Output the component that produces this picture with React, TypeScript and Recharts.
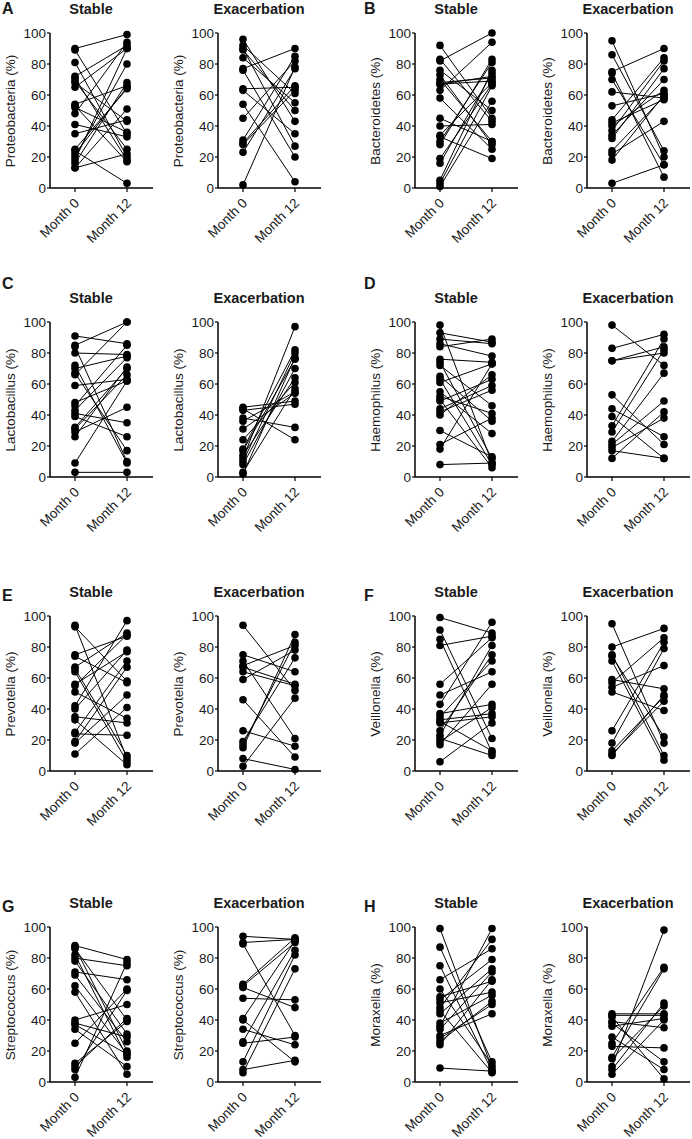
import { LineChart, Line, XAxis, YAxis } from 'recharts'

const months = ['Month 0', 'Month 12']
const yTicks = [0, 20, 40, 60, 80, 100]

// A - Proteobacteria
const proteoStableM0 = [90, 89, 81, 72, 71, 69, 68, 65, 54, 53, 52, 48, 41, 35, 25, 24, 22, 20, 18, 16, 13, 13]
const proteoStableM12 = [99, 35, 20, 92, 18, 25, 43, 90, 66, 17, 36, 94, 33, 44, 64, 3, 65, 80, 90, 68, 22, 51]
const proteoExacM0 = [96, 92, 90, 89, 84, 77, 76, 64, 63, 54, 45, 31, 29, 28, 23, 2]
const proteoExacM12 = [43, 61, 27, 50, 55, 90, 20, 65, 35, 4, 82, 85, 66, 63, 77, 78]

// B - Bacteroidetes
const bactStableM0 = [92, 83, 82, 76, 73, 70, 68, 67, 67, 63, 58, 45, 40, 34, 33, 30, 28, 19, 16, 5, 3, 1]
const bactStableM12 = [45, 43, 100, 50, 28, 30, 71, 69, 72, 94, 25, 30, 41, 68, 19, 81, 83, 67, 74, 76, 66, 56]
const bactExacM0 = [95, 86, 75, 74, 70, 62, 53, 44, 42, 40, 37, 34, 32, 24, 22, 18, 3]
const bactExacM12 = [20, 24, 90, 7, 15, 58, 61, 84, 57, 63, 82, 70, 77, 59, 43, 60, 15]

// C - Lactobacillus
const lactoStableM0 = [91, 85, 84, 80, 72, 70, 67, 66, 59, 48, 46, 43, 41, 39, 32, 31, 29, 26, 9, 3]
const lactoStableM12 = [86, 100, 10, 79, 9, 78, 17, 100, 63, 62, 85, 77, 35, 26, 70, 66, 45, 71, 62, 3]
const lactoExacM0 = [45, 44, 43, 38, 36, 31, 24, 18, 17, 14, 12, 10, 8, 3, 2]
const lactoExacM12 = [49, 24, 47, 32, 55, 54, 61, 82, 76, 64, 97, 80, 70, 57, 77]

// D - Haemophilus
const haemoStableM0 = [98, 93, 89, 86, 84, 76, 74, 72, 65, 63, 61, 55, 52, 50, 49, 44, 42, 40, 30, 21, 18, 8]
const haemoStableM12 = [9, 87, 86, 78, 89, 74, 12, 46, 36, 8, 73, 28, 41, 6, 63, 59, 56, 66, 13, 38, 73, 9]
const haemoExacM0 = [98, 83, 75, 75, 53, 44, 39, 33, 29, 23, 21, 19, 17, 12]
const haemoExacM12 = [72, 92, 84, 80, 21, 26, 12, 89, 82, 67, 49, 38, 12, 42]

// E - Prevotella
const prevoStableM0 = [94, 93, 75, 74, 67, 66, 64, 56, 55, 51, 42, 40, 35, 33, 25, 24, 19, 18, 11]
const prevoStableM12 = [8, 58, 87, 57, 89, 10, 6, 77, 88, 34, 97, 78, 31, 4, 71, 23, 67, 49, 41]
const prevoExacM0 = [94, 75, 71, 68, 67, 64, 59, 46, 26, 19, 17, 15, 8, 3]
const prevoExacM12 = [52, 64, 21, 81, 56, 55, 78, 9, 16, 73, 83, 88, 1, 47]

// F - Veillonella
const veilStableM0 = [99, 91, 85, 81, 56, 49, 43, 37, 35, 33, 32, 31, 26, 23, 21, 19, 17, 6]
const veilStableM12 = [89, 21, 12, 87, 86, 64, 96, 43, 71, 37, 13, 35, 75, 81, 10, 41, 56, 31]
const veilExacM0 = [95, 80, 75, 74, 71, 59, 57, 54, 51, 26, 18, 13, 11, 10]
const veilExacM12 = [18, 92, 10, 22, 7, 53, 86, 68, 39, 83, 79, 48, 45, 49]

// G - Streptococcus
const streptoStableM0 = [88, 87, 86, 82, 80, 78, 71, 69, 62, 58, 40, 38, 37, 34, 25, 12, 10, 8, 3]
const streptoStableM12 = [79, 20, 40, 16, 75, 31, 66, 26, 18, 5, 50, 29, 18, 10, 60, 39, 41, 59, 77]
const streptoExacM0 = [94, 90, 89, 63, 62, 61, 54, 41, 40, 34, 26, 25, 13, 8, 6]
const streptoExacM12 = [92, 92, 30, 93, 90, 48, 53, 91, 13, 24, 85, 29, 82, 14, 73]

// H - Moraxella
const moraxStableM0 = [99, 87, 75, 66, 60, 55, 53, 51, 48, 46, 44, 38, 36, 34, 30, 28, 26, 24, 9]
const moraxStableM12 = [9, 13, 7, 86, 11, 65, 79, 58, 92, 6, 73, 56, 99, 71, 44, 50, 52, 66, 7]
const moraxExacM0 = [44, 43, 42, 39, 38, 36, 29, 25, 23, 16, 15, 10, 8, 5]
const moraxExacM12 = [44, 43, 2, 35, 13, 41, 8, 74, 22, 73, 49, 98, 51, 40]

const COL_X = [50, 218, 415, 587]
const ROW_Y = [33, 322, 616, 927]
const LETTER_Y = [15, 290, 602, 913]
const PLOT_W = 103
const PLOT_H = 155
const Y_W = 34
const M_TOP = 8
const M_RIGHT = 6
const X_H = 70
const FONT = '"Liberation Sans", Arial, Helvetica, sans-serif'
const INK = '#1a1a1a'

const MonthTick = (props: any) => {
  const { x, y, payload } = props
  return (
    <g transform={`translate(${x},${y})`}>
      <text
        x={0}
        y={0}
        textAnchor="end"
        fill={INK}
        fontSize={13.5}
        transform="translate(5,10) rotate(-45)"
      >
        {payload.value}
      </text>
    </g>
  )
}

const Panel = ({
  m0,
  m12,
  col,
  row,
  yLabel,
  title,
}: {
  m0: number[]
  m12: number[]
  col: number
  row: number
  yLabel: string
  title: string
}) => {
  const plotLeft = COL_X[col]
  const plotTop = ROW_Y[row]
  const data = months.map((m, j) => {
    const r: Record<string, string | number> = { month: m }
    const vals = j === 0 ? m0 : m12
    vals.forEach((v, i) => {
      r[`s${i}`] = v
    })
    return r
  })

  return (
    <>
      <div
        style={{
          position: 'absolute',
          left: plotLeft + 41,
          top: plotTop - 31,
          transform: 'translateX(-50%)',
          fontWeight: 'bold',
          fontSize: 14.5,
          lineHeight: '14px',
          color: INK,
          whiteSpace: 'nowrap',
        }}
      >
        {title}
      </div>
      <div
        style={{
          position: 'absolute',
          left: plotLeft - 40,
          top: plotTop + PLOT_H / 2,
          transform: 'translate(-50%, -50%) rotate(-90deg)',
          fontSize: 13.5,
          color: INK,
          whiteSpace: 'nowrap',
        }}
      >
        {yLabel}
      </div>
      <div style={{ position: 'absolute', left: plotLeft - Y_W, top: plotTop - M_TOP }}>
        <LineChart
          width={Y_W + PLOT_W + M_RIGHT}
          height={M_TOP + PLOT_H + X_H}
          data={data}
          margin={{ top: M_TOP, right: M_RIGHT, bottom: 0, left: 0 }}
        >
          <XAxis
            dataKey="month"
            padding={{ left: 25, right: 26 }}
            height={X_H}
            interval={0}
            tick={<MonthTick />}
            tickSize={4}
            tickMargin={2}
            axisLine={{ stroke: '#000', strokeWidth: 1.5 }}
            tickLine={{ stroke: '#000', strokeWidth: 1.2 }}
          />
          <YAxis
            domain={[0, 100]}
            ticks={yTicks}
            width={Y_W}
            tickSize={3}
            tickMargin={1}
            tick={{ fill: INK, fontSize: 13.5 }}
            axisLine={{ stroke: '#000', strokeWidth: 1.5 }}
            tickLine={{ stroke: '#000', strokeWidth: 1.2 }}
          />
          {m0.map((_, i) => (
            <Line
              key={`s${i}`}
              dataKey={`s${i}`}
              stroke="#000"
              strokeWidth={1}
              dot={{ r: 3.8, fill: '#000', stroke: '#000', strokeWidth: 0 }}
              isAnimationActive={false}
            />
          ))}
        </LineChart>
      </div>
    </>
  )
}

const Letter = ({ text, x, y }: { text: string; x: number; y: number }) => (
  <div
    style={{
      position: 'absolute',
      left: x,
      top: y - 13,
      fontWeight: 'bold',
      fontSize: 16,
      lineHeight: '14px',
      color: INK,
    }}
  >
    {text}
  </div>
)

export default function App() {
  return (
    <div
      style={{
        position: 'absolute',
        left: 0,
        top: 0,
        width: 692,
        height: 1139,
        background: '#fff',
        fontFamily: FONT,
        overflow: 'hidden',
      }}
    >
      <Letter text="A" x={2} y={LETTER_Y[0]} />
      <Letter text="B" x={364} y={LETTER_Y[0]} />
      <Letter text="C" x={2} y={LETTER_Y[1]} />
      <Letter text="D" x={364} y={LETTER_Y[1]} />
      <Letter text="E" x={2} y={LETTER_Y[2]} />
      <Letter text="F" x={364} y={LETTER_Y[2]} />
      <Letter text="G" x={2} y={LETTER_Y[3]} />
      <Letter text="H" x={364} y={LETTER_Y[3]} />

      <Panel m0={proteoStableM0} m12={proteoStableM12} col={0} row={0} yLabel="Proteobacteria (%)" title="Stable" />
      <Panel m0={proteoExacM0} m12={proteoExacM12} col={1} row={0} yLabel="Proteobacteria (%)" title="Exacerbation" />
      <Panel m0={bactStableM0} m12={bactStableM12} col={2} row={0} yLabel="Bacteroidetes (%)" title="Stable" />
      <Panel m0={bactExacM0} m12={bactExacM12} col={3} row={0} yLabel="Bacteroidetes (%)" title="Exacerbation" />

      <Panel m0={lactoStableM0} m12={lactoStableM12} col={0} row={1} yLabel="Lactobacillus (%)" title="Stable" />
      <Panel m0={lactoExacM0} m12={lactoExacM12} col={1} row={1} yLabel="Lactobacillus (%)" title="Exacerbation" />
      <Panel m0={haemoStableM0} m12={haemoStableM12} col={2} row={1} yLabel="Haemophilus (%)" title="Stable" />
      <Panel m0={haemoExacM0} m12={haemoExacM12} col={3} row={1} yLabel="Haemophilus (%)" title="Exacerbation" />

      <Panel m0={prevoStableM0} m12={prevoStableM12} col={0} row={2} yLabel="Prevotella (%)" title="Stable" />
      <Panel m0={prevoExacM0} m12={prevoExacM12} col={1} row={2} yLabel="Prevotella (%)" title="Exacerbation" />
      <Panel m0={veilStableM0} m12={veilStableM12} col={2} row={2} yLabel="Veillonella (%)" title="Stable" />
      <Panel m0={veilExacM0} m12={veilExacM12} col={3} row={2} yLabel="Veillonella (%)" title="Exacerbation" />

      <Panel m0={streptoStableM0} m12={streptoStableM12} col={0} row={3} yLabel="Streptococcus (%)" title="Stable" />
      <Panel m0={streptoExacM0} m12={streptoExacM12} col={1} row={3} yLabel="Streptococcus (%)" title="Exacerbation" />
      <Panel m0={moraxStableM0} m12={moraxStableM12} col={2} row={3} yLabel="Moraxella (%)" title="Stable" />
      <Panel m0={moraxExacM0} m12={moraxExacM12} col={3} row={3} yLabel="Moraxella (%)" title="Exacerbation" />
    </div>
  )
}
